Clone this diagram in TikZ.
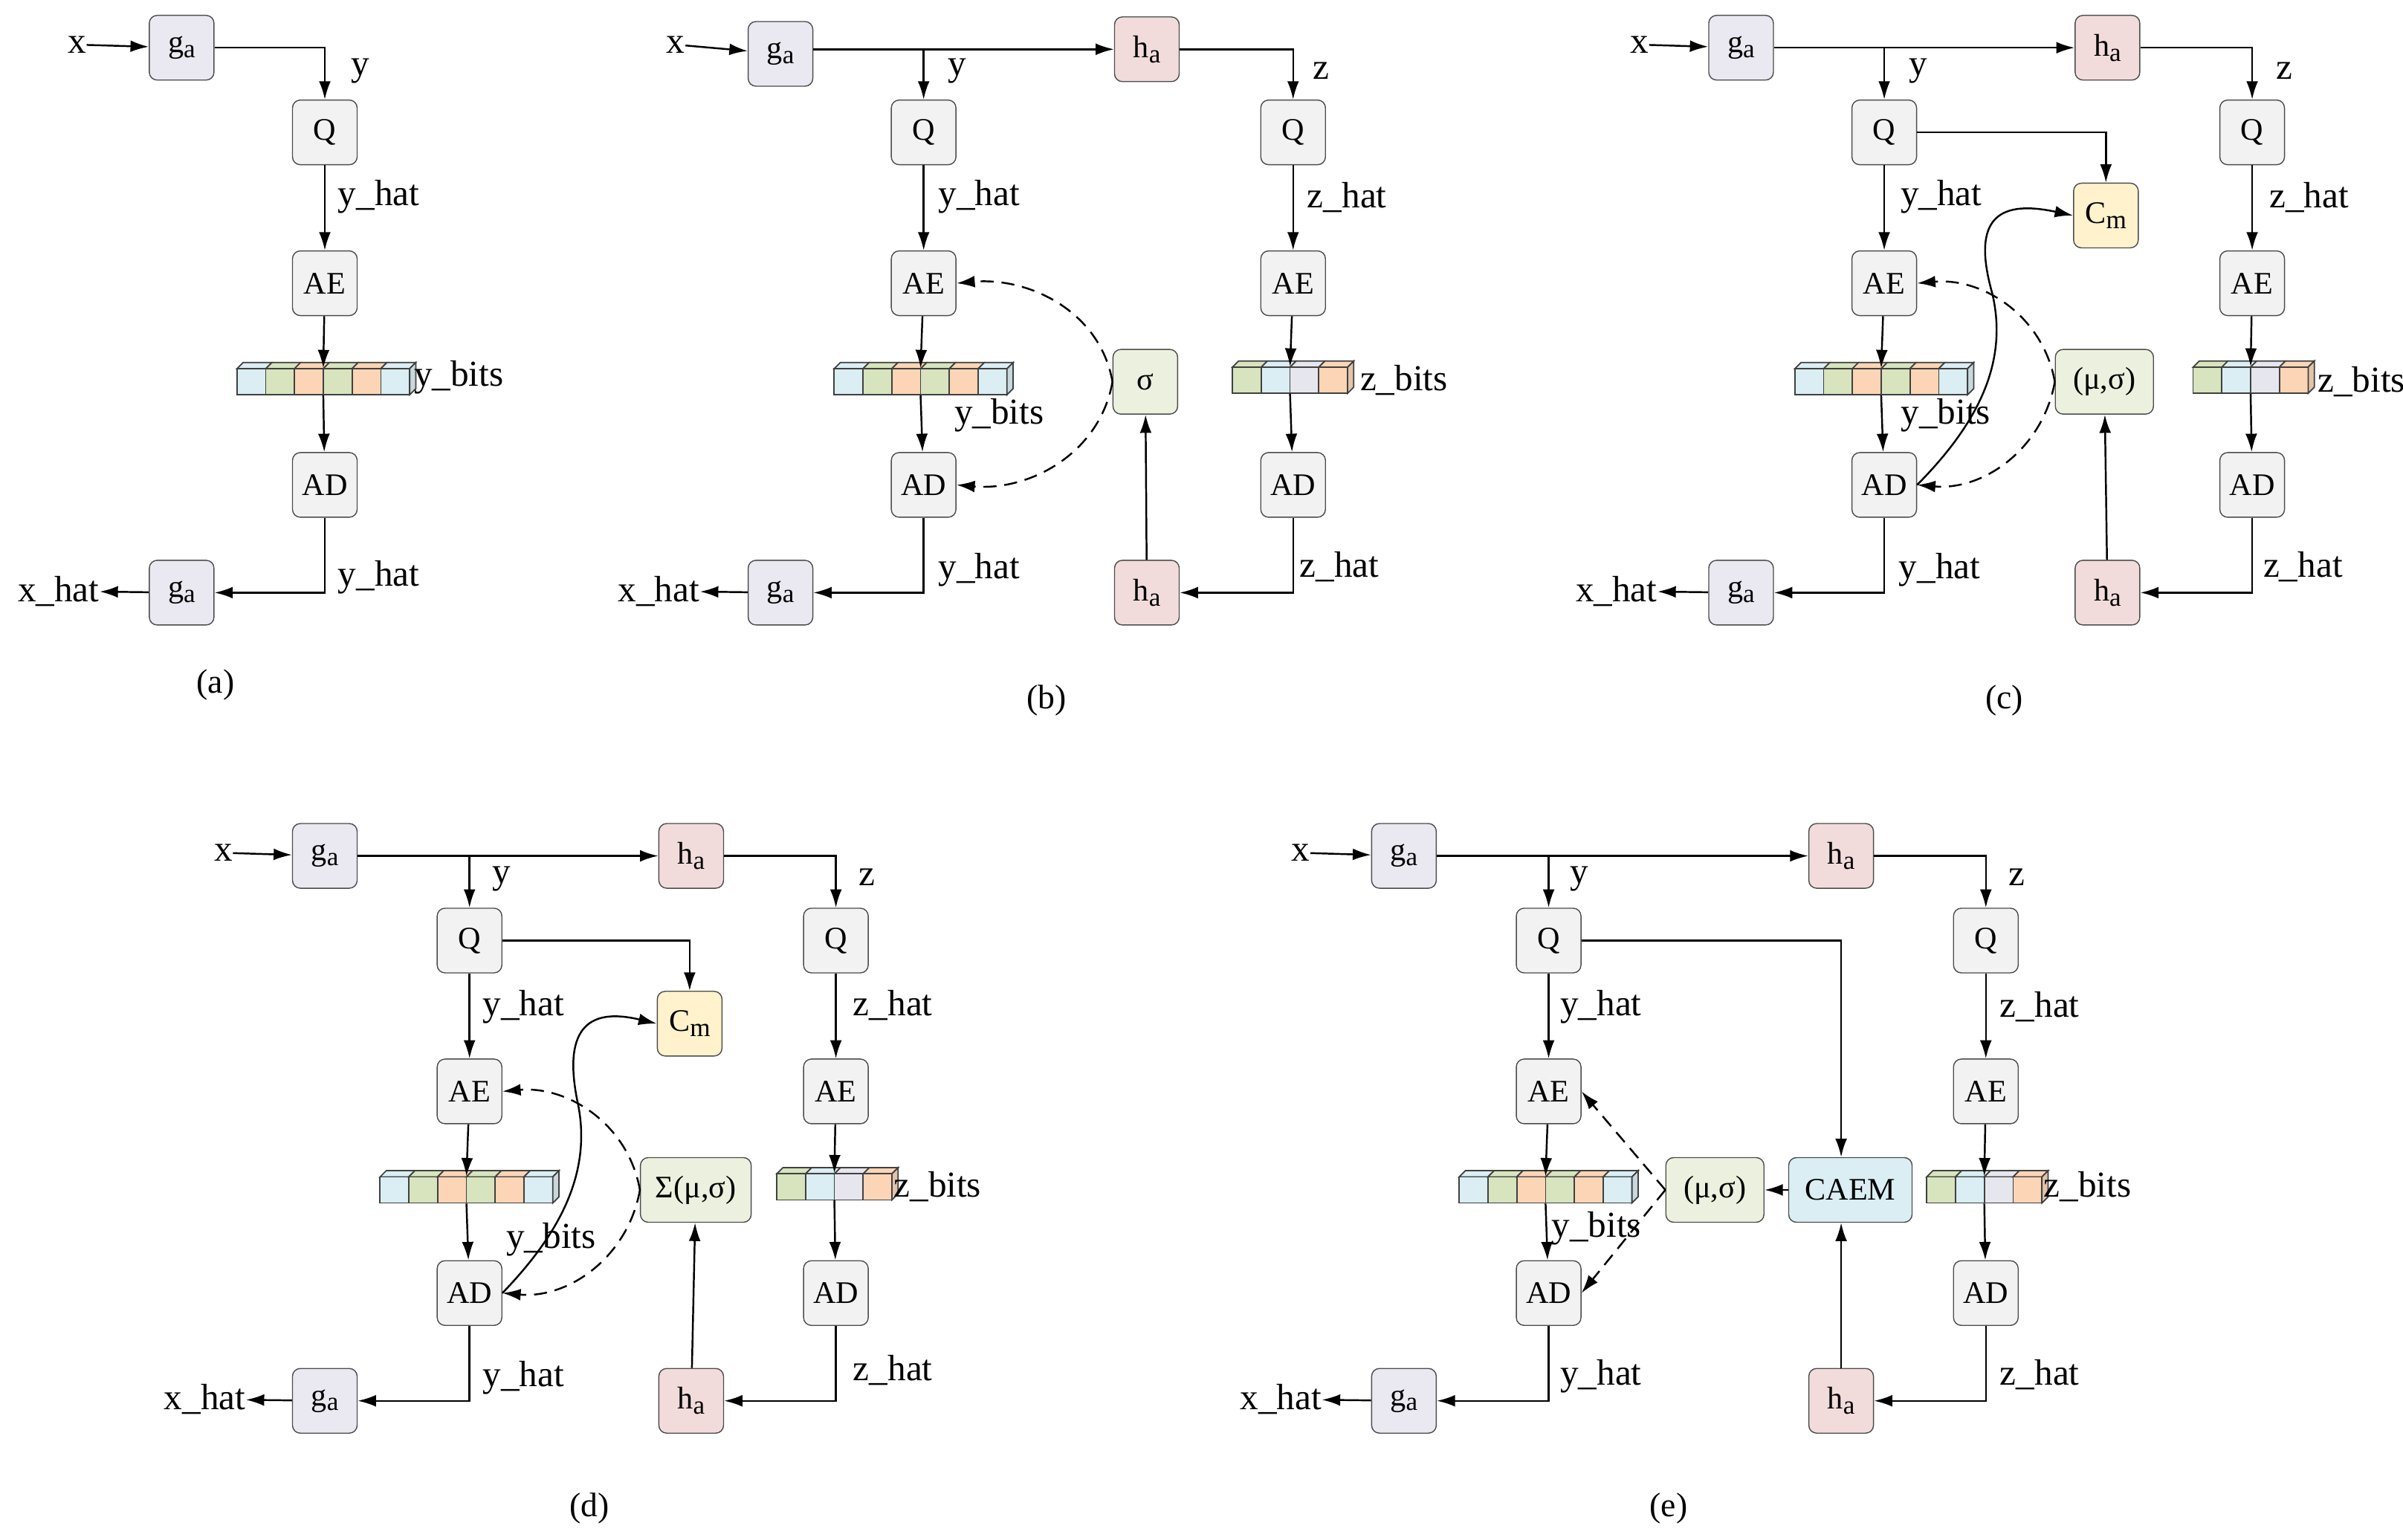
\documentclass[tikz,border=0pt]{standalone}
\usepackage{fontspec}
\setmainfont{Liberation Serif}
\usetikzlibrary{arrows.meta}
\definecolor{cga}{HTML}{EAE8F0}
\definecolor{cha}{HTML}{F2DCDB}
\definecolor{cbox}{HTML}{F2F2F2}
\definecolor{ccm}{HTML}{FFF2CC}
\definecolor{cms}{HTML}{EBF1DE}
\definecolor{ccaem}{HTML}{DAEEF3}
\definecolor{bB}{HTML}{DAEEF3}
\definecolor{bG}{HTML}{D7E4BD}
\definecolor{bO}{HTML}{FBD5B5}
\definecolor{bL}{HTML}{E6E6EE}
\newcommand{\ga}{g\raisebox{-0.35ex}{\fontsize{10}{10}\selectfont a}}
\newcommand{\ha}{h\raisebox{-0.35ex}{\fontsize{10}{10}\selectfont a}}
\newcommand{\cm}{C\raisebox{-0.35ex}{\fontsize{10}{10}\selectfont m}}
% name, cx, cy, n, colors
\newcommand{\mybits}[5]{%
  \foreach \cc [count=\i] in {#5} {
    \pgfmathsetmacro{\xl}{#2-#4*18.7/2+(\i-1)*18.7}
    \pgfmathsetmacro{\xr}{\xl+18.7}
    \draw[bitline,fill=\cc] (\xl,#3-8.5) -- (\xl+4,#3-12.5) -- (\xr+4,#3-12.5) -- (\xr,#3-8.5) -- cycle;
    \draw[bitline,fill=\cc] (\xl,#3-8.5) rectangle (\xr,#3+8.5);
  }
  \pgfmathsetmacro{\xe}{#2+#4*18.7/2}
  \pgfmathsetmacro{\lastc}{0}
  \foreach \cc [count=\i] in {#5} {\ifnum\i=#4 \draw[bitline,fill=\cc!80!gray] (\xe,#3-8.5) -- (\xe+4,#3-12.5) -- (\xe+4,#3+4.5) -- (\xe,#3+8.5) -- cycle;\fi}
  \node[inner sep=0pt,minimum width=#4*0.387cm,minimum height=0.352cm] (#1) at (#2,#3) {};
}
\begin{document}
\begin{tikzpicture}[x=0.0207cm,y=-0.0207cm,
  box/.style={draw=black!70,rounded corners=3pt,minimum width=0.87cm,minimum height=0.87cm,inner sep=1pt,font=\fontsize{12}{14}\selectfont},
  gbox/.style={box,fill=cga}, hbox/.style={box,fill=cha}, qbox/.style={box,fill=cbox},
  cmbox/.style={box,fill=ccm}, msbox/.style={box,fill=cms},
  bitline/.style={draw=black!75,line width=0.5pt},
  lab/.style={font=\fontsize{14}{16}\selectfont,inner sep=0pt},
  plab/.style={font=\fontsize{13}{15}\selectfont,inner sep=0pt},
  arr/.style={-{Latex[length=7pt,width=4.5pt]},line width=0.7pt},
  darr/.style={arr,dashed,dash pattern=on 5pt off 3pt},
  line/.style={line width=0.7pt}]
\useasboundingbox (0,0) rectangle (1561,1000);
% ---------------- (a)
\node[lab] (ax) at (50,29) {x};
\node[gbox] (aga) at (118,31) {\ga};
\node[qbox] (aq) at (211,86) {Q};
\node[qbox] (aae) at (211,184) {AE};
\mybits{abits}{210}{248}{6}{bB,bG,bO,bG,bO,bB}
\node[qbox] (aad) at (211,315) {AD};
\node[gbox] (agb) at (118,385) {\ga};
\node[lab] (axh) at (38,384) {x\_hat};
\node[lab] at (234,46) {y};
\node[lab] at (246,128) {y\_hat};
\node[lab] at (298,245) {y\_bits};
\node[lab] at (246,375) {y\_hat};
\node[plab] at (140,445) {(a)};
\draw[arr] (ax) -- (aga);
\draw[arr] (aga.east) -| (aq.north);
\draw[arr] (aq) -- (aae);
\draw[arr] (aae) -- (abits.north);
\draw[arr] (abits.south) -- (aad);
\draw[arr] (aad.south) |- (agb.east);
\draw[arr] (agb) -- (axh);
% ---------------- (b)
\node[lab] (bx) at (439,29) {x};
\node[gbox] (bga) at (507,35) {\ga};
\node[hbox] (bha) at (745,32) {\ha};
\node[qbox] (bq) at (600,86) {Q};
\node[qbox] (bae) at (600,184) {AE};
\mybits{bbits}{598}{248}{6}{bB,bG,bO,bG,bO,bB}
\node[qbox] (bad) at (600,315) {AD};
\node[gbox] (bgb) at (507,385) {\ga};
\node[lab] (bxh) at (428,384) {x\_hat};
\node[qbox] (bq2) at (840,86) {Q};
\node[qbox] (bae2) at (840,184) {AE};
\mybits{bbits2}{838}{247}{4}{bG,bB,bL,bO}
\node[qbox] (bad2) at (840,315) {AD};
\node[hbox] (bhb) at (745,385) {\ha};
\node[msbox] (bs) at (744,248) {σ};
\node[lab] at (622,46) {y};
\node[lab] at (636,128) {y\_hat};
\node[lab] at (649,270) {y\_bits};
\node[lab] at (636,370) {y\_hat};
\node[lab] at (858,46) {z};
\node[lab] at (875,128) {z\_hat};
\node[lab] at (912,247) {z\_bits};
\node[lab] at (870,368) {z\_hat};
\node[plab] at (680,455) {(b)};
\draw[arr] (bx) -- (bga);
\draw[arr] (bga.east |- bha.west) -- (bha.west);
\draw[arr] (bq.north |- bha.west) -- (bq.north);
\draw[arr] (bha.east) -| (bq2.north);
\draw[arr] (bq) -- (bae);
\draw[arr] (bae) -- (bbits.north);
\draw[arr] (bbits.south) -- (bad);
\draw[arr] (bad.south) |- (bgb.east);
\draw[arr] (bgb) -- (bxh);
\draw[arr] (bq2) -- (bae2);
\draw[arr] (bae2) -- (bbits2.north);
\draw[arr] (bbits2.south) -- (bad2);
\draw[arr] (bad2.south) |- (bhb.east);
\draw[arr] (bhb) -- (bs);
\draw[darr] (bs.west) to[out=100,in=5] (bae.east);
\draw[darr] (bs.west) to[out=-100,in=-5] (bad.east);
% ---------------- (c)
\node[lab] (cx) at (1065,29) {x};
\node[gbox] (cga) at (1131,31) {\ga};
\node[hbox] (cha) at (1369,31) {\ha};
\node[qbox] (cq) at (1224,86) {Q};
\node[qbox] (cae) at (1224,184) {AE};
\mybits{cbits}{1222}{248}{6}{bB,bG,bO,bG,bO,bB}
\node[qbox] (cad) at (1224,315) {AD};
\node[gbox] (cgb) at (1131,385) {\ga};
\node[lab] (cxh) at (1050,384) {x\_hat};
\node[qbox] (cq2) at (1463,86) {Q};
\node[qbox] (cae2) at (1463,184) {AE};
\mybits{cbits2}{1462}{247}{4}{bG,bB,bL,bO}
\node[qbox] (cad2) at (1463,315) {AD};
\node[hbox] (chb) at (1369,385) {\ha};
\node[cmbox] (ccm) at (1368,140) {\cm};
\node[msbox,minimum width=1.32cm] (cms) at (1367,248) {(μ,σ)};
\node[lab] at (1246,46) {y};
\node[lab] at (1261,128) {y\_hat};
\node[lab] at (1264,270) {y\_bits};
\node[lab] at (1260,370) {y\_hat};
\node[lab] at (1484,46) {z};
\node[lab] at (1500,128) {z\_hat};
\node[lab] at (1534,248) {z\_bits};
\node[lab] at (1496,368) {z\_hat};
\node[plab] at (1302,455) {(c)};
\draw[arr] (cx) -- (cga);
\draw[arr] (cga.east) -- (cha.west);
\draw[arr] (cq.north |- cha.west) -- (cq.north);
\draw[arr] (cha.east) -| (cq2.north);
\draw[arr] (cq.east) -| (ccm.north);
\draw[arr] (cq) -- (cae);
\draw[arr] (cae) -- (cbits.north);
\draw[arr] (cbits.south) -- (cad);
\draw[arr] (cad.south) |- (cgb.east);
\draw[arr] (cgb) -- (cxh);
\draw[arr] (cq2) -- (cae2);
\draw[arr] (cae2) -- (cbits2.north);
\draw[arr] (cbits2.south) -- (cad2);
\draw[arr] (cad2.south) |- (chb.east);
\draw[arr] (chb) -- (cms);
\draw[arr] (cad.east) .. controls (1285,275) and (1305,235) .. (1294,190) .. controls (1280,140) and (1300,130) .. (ccm.west);
\draw[darr] (cms.west) to[out=100,in=5] (cae.east);
\draw[darr] (cms.west) to[out=-100,in=-5] (cad.east);
% ---------------- (d)
\node[lab] (dx) at (145,554) {x};
\node[gbox] (dga) at (211,556) {\ga};
\node[hbox] (dha) at (449,556) {\ha};
\node[qbox] (dq) at (305,611) {Q};
\node[qbox] (dae) at (305,709) {AE};
\mybits{dbits}{303}{773}{6}{bB,bG,bO,bG,bO,bB}
\node[qbox] (dad) at (305,840) {AD};
\node[gbox] (dgb) at (211,910) {\ga};
\node[lab] (dxh) at (133,909) {x\_hat};
\node[qbox] (dq2) at (543,611) {Q};
\node[qbox] (dae2) at (543,709) {AE};
\mybits{dbits2}{542}{771}{4}{bG,bB,bL,bO}
\node[qbox] (dad2) at (543,840) {AD};
\node[hbox] (dhb) at (449,910) {\ha};
\node[cmbox] (dcm) at (448,665) {\cm};
\node[msbox,minimum width=1.49cm] (dms) at (452,773) {Σ(μ,σ)};
\node[lab] at (326,571) {y};
\node[lab] at (340,654) {y\_hat};
\node[lab] at (358,805) {y\_bits};
\node[lab] at (340,895) {y\_hat};
\node[lab] at (563,570) {z};
\node[lab] at (580,653) {z\_hat};
\node[lab] at (609,771) {z\_bits};
\node[lab] at (580,890) {z\_hat};
\node[plab] at (383,980) {(d)};
\draw[arr] (dx) -- (dga);
\draw[arr] (dga.east) -- (dha.west);
\draw[arr] (dq.north |- dha.west) -- (dq.north);
\draw[arr] (dha.east) -| (dq2.north);
\draw[arr] (dq.east) -| (dcm.north);
\draw[arr] (dq) -- (dae);
\draw[arr] (dae) -- (dbits.north);
\draw[arr] (dbits.south) -- (dad);
\draw[arr] (dad.south) |- (dgb.east);
\draw[arr] (dgb) -- (dxh);
\draw[arr] (dq2) -- (dae2);
\draw[arr] (dae2) -- (dbits2.north);
\draw[arr] (dbits2.south) -- (dad2);
\draw[arr] (dad2.south) |- (dhb.east);
\draw[arr] (dhb) -- (dms);
\draw[arr] (dad.east) .. controls (365,800) and (385,760) .. (375,715) .. controls (365,665) and (385,655) .. (dcm.west);
\draw[darr] (dms.west) to[out=100,in=5] (dae.east);
\draw[darr] (dms.west) to[out=-100,in=-5] (dad.east);
% ---------------- (e)
\node[lab] (ex) at (845,554) {x};
\node[gbox] (ega) at (912,556) {\ga};
\node[hbox] (eha) at (1196,556) {\ha};
\node[qbox] (eq) at (1006,611) {Q};
\node[qbox] (eae) at (1006,709) {AE};
\mybits{ebits}{1004}{773}{6}{bB,bG,bO,bG,bO,bB}
\node[qbox] (ead) at (1006,840) {AD};
\node[gbox] (egb) at (912,910) {\ga};
\node[lab] (exh) at (832,909) {x\_hat};
\node[qbox] (eq2) at (1290,611) {Q};
\node[qbox] (eae2) at (1290,709) {AE};
\mybits{ebits2}{1289}{773}{4}{bG,bB,bL,bO}
\node[qbox] (ead2) at (1290,840) {AD};
\node[hbox] (ehb) at (1196,910) {\ha};
\node[box,fill=ccaem,minimum width=1.66cm] (ecaem) at (1202,773) {CAEM};
\node[msbox,minimum width=1.32cm] (ems) at (1114,773) {(μ,σ)};
\node[lab] at (1026,571) {y};
\node[lab] at (1040,654) {y\_hat};
\node[lab] at (1037,798) {y\_bits};
\node[lab] at (1040,894) {y\_hat};
\node[lab] at (1310,570) {z};
\node[lab] at (1325,654) {z\_hat};
\node[lab] at (1356,771) {z\_bits};
\node[lab] at (1325,893) {z\_hat};
\node[plab] at (1084,980) {(e)};
\draw[arr] (ex) -- (ega);
\draw[arr] (ega.east) -- (eha.west);
\draw[arr] (eq.north |- eha.west) -- (eq.north);
\draw[arr] (eha.east) -| (eq2.north);
\draw[arr] (eq.east) -| (ecaem.north -| eha.south);
\draw[arr] (eq) -- (eae);
\draw[arr] (eae) -- (ebits.north);
\draw[arr] (ebits.south) -- (ead);
\draw[arr] (ead.south) |- (egb.east);
\draw[arr] (egb) -- (exh);
\draw[arr] (eq2) -- (eae2);
\draw[arr] (eae2) -- (ebits2.north);
\draw[arr] (ebits2.south) -- (ead2);
\draw[arr] (ead2.south) |- (ehb.east);
\draw[arr] (ehb) -- (ehb |- ecaem.south);
\draw[arr] (ecaem) -- (ems);
\draw[darr] (ems.west) -- (eae.east);
\draw[darr] (ems.west) -- (ead.east);
\end{tikzpicture}
\end{document}
